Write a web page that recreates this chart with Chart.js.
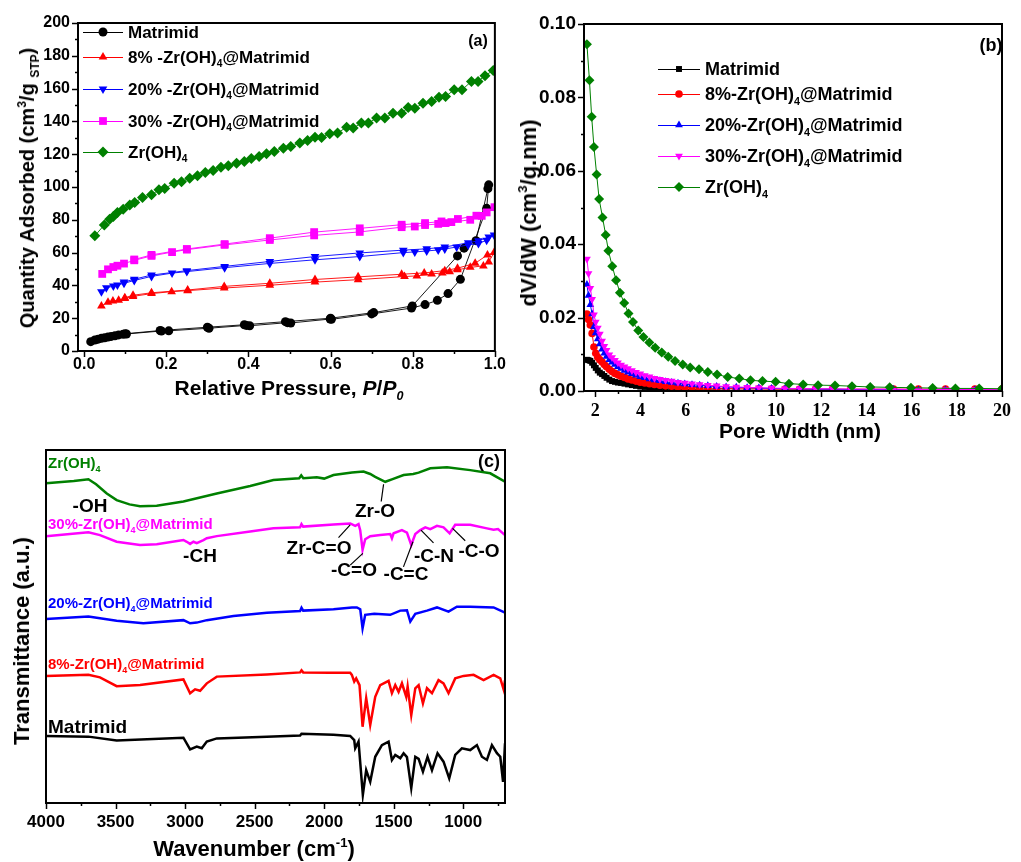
<!DOCTYPE html>
<html>
<head>
<meta charset="utf-8">
<script src="https://cdn.jsdelivr.net/npm/chart.js@4.4.1/dist/chart.umd.min.js"></script>
<style>
  body { margin: 0; background: #fff; width: 1021px; height: 862px; position: relative; overflow: hidden;
         font-family: "Liberation Sans", Arial, sans-serif; font-weight: bold; }
  canvas { position: absolute; }
  .t { position: absolute; white-space: nowrap; line-height: 1; font-weight: bold; color: #000; z-index: 5; }
  .t sub { font-size: 0.6em; vertical-align: -0.45em; line-height: 0; }
  .t sup { font-size: 0.6em; vertical-align: 0.7em; line-height: 0; }
  .c { transform: translate(-50%, -50%); }
  .l { transform: translate(0, -50%); }
  .r { transform: translate(-50%, -50%) rotate(-90deg); }
</style>
</head>
<body>
<canvas id="chartA" width="510" height="420" style="left:0;top:0"></canvas>
<canvas id="chartB" width="511" height="430" style="left:510px;top:0"></canvas>
<canvas id="chartC" width="510" height="432" style="left:0;top:430px"></canvas>

<!-- panel (a) text -->
<div class="t r" style="left:27px;top:188px;font-size:20px">Quantity Adsorbed (cm<sup>3</sup>/g <sub>STP</sub>)</div>
<div class="t c" style="left:289px;top:387px;font-size:21px">Relative Pressure, <i>P</i>/<i>P</i><sub><i>0</i></sub></div>
<div class="t c" style="left:478px;top:41px;font-size:16px">(a)</div>
<div class="t l" style="left:128px;top:32px;font-size:17px">Matrimid</div>
<div class="t l" style="left:128px;top:57px;font-size:17px">8% -Zr(OH)<sub>4</sub>@Matrimid</div>
<div class="t l" style="left:128px;top:89px;font-size:17px">20% -Zr(OH)<sub>4</sub>@Matrimid</div>
<div class="t l" style="left:128px;top:121px;font-size:17px">30% -Zr(OH)<sub>4</sub>@Matrimid</div>
<div class="t l" style="left:128px;top:152px;font-size:17px">Zr(OH)<sub>4</sub></div>

<!-- panel (b) text -->
<div class="t r" style="left:529px;top:213px;font-size:22px">dV/dW (cm<sup>3</sup>/g.nm)</div>
<div class="t c" style="left:800px;top:430px;font-size:21px">Pore Width (nm)</div>
<div class="t c" style="left:991px;top:45px;font-size:18px">(b)</div>
<div class="t l" style="left:705px;top:69px;font-size:18px">Matrimid</div>
<div class="t l" style="left:705px;top:94px;font-size:18px">8%-Zr(OH)<sub>4</sub>@Matrimid</div>
<div class="t l" style="left:705px;top:125px;font-size:18px">20%-Zr(OH)<sub>4</sub>@Matrimid</div>
<div class="t l" style="left:705px;top:156px;font-size:18px">30%-Zr(OH)<sub>4</sub>@Matrimid</div>
<div class="t l" style="left:705px;top:187px;font-size:18px">Zr(OH)<sub>4</sub></div>

<!-- panel (c) text -->
<div class="t r" style="left:22px;top:641px;font-size:22px">Transmittance (a.u.)</div>
<div class="t c" style="left:254px;top:849px;font-size:22px">Wavenumber (cm<sup>-1</sup>)</div>
<div class="t c" style="left:489px;top:461px;font-size:18px">(c)</div>
<div class="t l" style="left:48px;top:462px;font-size:15px;color:#008000">Zr(OH)<sub>4</sub></div>
<div class="t l" style="left:48px;top:523px;font-size:15px;color:#ff00ff">30%-Zr(OH)<sub>4</sub>@Matrimid</div>
<div class="t l" style="left:48px;top:602px;font-size:15px;color:#0000ff">20%-Zr(OH)<sub>4</sub>@Matrimid</div>
<div class="t l" style="left:48px;top:663px;font-size:15px;color:#ff0000">8%-Zr(OH)<sub>4</sub>@Matrimid</div>
<div class="t l" style="left:48px;top:726px;font-size:19px">Matrimid</div>
<div class="t c" style="left:90px;top:505px;font-size:19px">-OH</div>
<div class="t c" style="left:375px;top:510px;font-size:19px">Zr-O</div>
<div class="t c" style="left:319px;top:547px;font-size:19px">Zr-C=O</div>
<div class="t c" style="left:200px;top:555px;font-size:19px">-CH</div>
<div class="t c" style="left:354px;top:569px;font-size:19px">-C=O</div>
<div class="t c" style="left:406px;top:573px;font-size:19px">-C=C</div>
<div class="t c" style="left:434px;top:555px;font-size:19px">-C-N</div>
<div class="t c" style="left:479px;top:550px;font-size:19px">-C-O</div>

<script>
// ---------- data: (a) N2 isotherms [P/P0, quantity adsorbed] ----------
const isoMatrimid = [[0.016,5.7],[0.026,6.7],[0.034,7.2],[0.042,7.7],[0.05,8.1],[0.058,8.5],[0.066,8.9],[0.075,9.3],[0.084,9.8],[0.095,10.2],[0.103,10.4],[0.188,12.2],[0.206,12.3],[0.304,13.9],[0.395,15.6],[0.403,15.4],[0.495,17.3],[0.503,17.1],[0.599,19.5],[0.602,19.3],[0.70,22.6],[0.797,26.2],[0.83,28.3],[0.86,30.9],[0.886,35],[0.916,43.7],[0.98,87],[0.985,101.3],
  [0.983,99],[0.954,67.3],[0.925,62.7],[0.909,58],[0.799,27.5],[0.705,23.4],[0.6,20],[0.49,17.9],[0.39,16],[0.3,14.5],[0.185,12.5],[0.1,10.5]];
const iso8 = [[0.042,27.5],[0.058,29.8],[0.07,30.5],[0.084,31],[0.099,32],[0.119,33.3],[0.164,35],[0.213,36.2],[0.252,36.8],[0.341,38.4],[0.452,40.1],[0.562,42],[0.667,43.5],[0.78,45.4],[0.81,45.8],[0.846,47],[0.872,47.6],[0.89,48.3],[0.909,49.5],[0.94,51],[0.972,51.9],[0.985,54.3],[0.998,60],
  [0.982,58.6],[0.952,53.5],[0.909,50.5],[0.878,49],[0.828,47.6],[0.773,46.8],[0.667,45.2],[0.562,43.6],[0.452,41.3],[0.341,39.4],[0.252,37.2],[0.164,35.5],[0.119,34],[0.099,32.5]];
const iso20 = [[0.042,36.2],[0.054,38.5],[0.071,39.6],[0.081,40.3],[0.097,41.3],[0.122,43],[0.164,45.5],[0.214,47.5],[0.25,48.4],[0.342,50.8],[0.452,53.4],[0.562,55.6],[0.671,57.6],[0.777,60],[0.805,60.4],[0.834,61],[0.862,61.6],[0.878,62.2],[0.907,63.4],[0.935,64.7],[0.96,65.5],[0.98,67.5],[0.998,70.8],
  [0.985,69.5],[0.96,67.2],[0.935,66],[0.878,63.4],[0.834,62.3],[0.777,61.5],[0.671,59.8],[0.562,57.6],[0.452,54.6],[0.342,51.6],[0.25,49],[0.164,46.3],[0.122,43.8],[0.097,42]];
const iso30 = [[0.044,47],[0.058,49.8],[0.071,51.2],[0.081,52],[0.097,53.3],[0.122,55.3],[0.164,58],[0.214,60.3],[0.25,61.8],[0.342,64.7],[0.452,67.7],[0.56,70.5],[0.671,72.6],[0.773,75.5],[0.805,75.9],[0.83,76.8],[0.862,77.5],[0.88,78],[0.894,78.6],[0.94,80],[0.968,82.4],[0.999,87.7],
  [0.98,84.5],[0.955,82.5],[0.91,80.5],[0.87,79],[0.83,78],[0.773,77],[0.671,74.8],[0.56,72.5],[0.452,68.8],[0.342,65.2],[0.25,62.2],[0.164,58.6],[0.122,55.8]];
const isoZr = [[0.026,70.2],[0.049,76.9],[0.062,80.4],[0.071,82],[0.081,84.4],[0.095,86.5],[0.111,89.1],[0.123,90.5],[0.142,93.6],[0.164,95.2],[0.182,98.3],[0.196,99.1],[0.219,102.3],[0.237,103.2],[0.257,105.4],[0.276,106.8],[0.295,108.9],[0.314,110.1],[0.333,112.1],[0.351,112.9],[0.371,114.5],[0.39,115.6],[0.407,117.4],[0.426,118.6],[0.444,120.2],[0.463,121.7],[0.485,123.7],[0.503,124.7],[0.525,126.8],[0.544,128.4],[0.562,130.4],[0.578,130.2],[0.598,132.5],[0.617,132.9],[0.639,136.5],[0.655,135.9],[0.675,139],[0.692,139],[0.712,142],[0.732,142],[0.752,145],[0.773,145],[0.789,148.5],[0.805,148],[0.825,151],[0.846,152.2],[0.864,154.8],[0.88,155.2],[0.901,159.3],[0.92,159.3],[0.943,164.4],[0.959,164.4],[0.976,167.9],[0.996,171.1]];

// ---------- data: (b) pore size distribution ----------
const poreWidthZr = [1.63,1.74,1.84,1.94,2.06,2.17,2.32,2.46,2.58,2.75,2.92,3.09,3.28,3.47,3.67,3.9,4.13,4.39,4.65,4.94,5.23,5.53,5.87,6.2,6.59,6.98,7.39,7.86,8.37,8.87,9.4,9.98,10.57,11.2,11.86,12.61,13.36,14.17,15.03,15.97,16.93,17.94,18.99,20];
const psdZr = [0.0945,0.0847,0.0747,0.0665,0.059,0.0523,0.0473,0.0425,0.0382,0.034,0.0302,0.0268,0.024,0.0211,0.0188,0.0165,0.0147,0.0132,0.0118,0.0105,0.0093,0.0082,0.0072,0.0064,0.0059,0.0052,0.0045,0.0038,0.0034,0.0029,0.0027,0.0025,0.002,0.0018,0.0016,0.0015,0.0013,0.0011,0.001,0.0009,0.0008,0.0007,0.0007,0.0006];
const poreWidth = [1.63,1.7,1.78,1.86,1.94,2.02,2.11,2.2,2.3,2.4,2.5,2.62,2.74,2.87,3.0,3.14,3.29,3.45,3.62,3.8,3.99,4.19,4.4,4.62,4.86,5.11,5.38,5.66,5.96,6.28,6.62,6.98,7.37,7.79,8.24,8.72,9.24,9.8,10.4,11.05,11.75,12.5,13.3,14.2,15.2,16.3,17.5,18.8,20];
const psd30 = [0.036,0.032,0.028,0.025,0.0208,0.0188,0.0172,0.0155,0.0136,0.0122,0.0111,0.0099,0.0091,0.0084,0.0077,0.0071,0.0066,0.0061,0.0056,0.0051,0.0047,0.0042,0.0039,0.0035,0.0032,0.0029,0.0027,0.0024,0.0022,0.002,0.0018,0.0016,0.0014,0.0012,0.0011,0.001,0.0009,0.0008,0.0007,0.0007,0.0006,0.0006,0.0005,0.0005,0.0005,0.0004,0.0004,0.0004,0.0004];
const psd20 = [0.029,0.026,0.0235,0.021,0.0175,0.0158,0.0142,0.0128,0.0114,0.0103,0.0094,0.0085,0.0078,0.0072,0.0066,0.0061,0.0056,0.0051,0.0047,0.0043,0.0039,0.0036,0.0033,0.003,0.0028,0.0025,0.0023,0.0021,0.0019,0.0017,0.0016,0.0014,0.0012,0.0011,0.001,0.0009,0.0008,0.0007,0.0006,0.0006,0.0005,0.0005,0.0004,0.0004,0.0004,0.0003,0.0003,0.0003,0.0003];
const psd8 = [0.021,0.0195,0.018,0.0157,0.012,0.0103,0.0092,0.0085,0.0079,0.0072,0.0066,0.0059,0.0053,0.0048,0.0044,0.004,0.0037,0.0033,0.003,0.0027,0.0024,0.0022,0.002,0.0018,0.0016,0.0014,0.0013,0.0011,0.001,0.0009,0.0008,0.0008,0.0007,0.0007,0.0006,0.0006,0.0006,0.0005,0.0005,0.0005,0.0005,0.0005,0.0005,0.0005,0.0005,0.0005,0.0005,0.0005,0.0005];
const psdMatrimid = [0.0085,0.0084,0.0082,0.0077,0.007,0.0063,0.0056,0.005,0.0046,0.0041,0.0036,0.0031,0.0027,0.0025,0.0023,0.0022,0.002,0.0018,0.0016,0.0014,0.0012,0.0011,0.0009,0.0008,0.0007,0.0006,0.0005,0.0005,0.0004,0.0004,0.0003,0.0003,0.0003,0.0002,0.0002,0.0002,0.0002,0.0002,0.0002,0.0002,0.0002,0.0002,0.0002,0.0001,0.0001,0.0001,0.0001,0.0001,0.0001];

// ---------- data: (c) FTIR spectra [wavenumber, transmittance a.u. incl. offset] ----------
const irZr = [[4000,90.6],[3800,91.2],[3695,91.7],[3640,90.3],[3563,87.7],[3492,85.8],[3400,84.6],[3324,84.1],[3204,84.2],[3012,85.4],[2772,87.7],[2532,89.8],[2365,91.5],[2180,92],[2165,92.8],[2150,92],[2053,92.3],[2000,91.9],[1933,92.9],[1800,93.6],[1717,93.9],[1669,93.2],[1633,92.4],[1561,91],[1513,91.7],[1429,92.9],[1360,93.2],[1321,93.6],[1237,94.8],[1117,95.1],[950,94.3],[806,93.4],[700,91]];
const ir30 = [[4000,75.6],[3695,76.7],[3612,75.9],[3492,74],[3324,73.1],[3204,73.3],[3012,74.5],[2988,74],[2964,73.4],[2940,74],[2916,73.6],[2868,74.5],[2844,75],[2772,75.6],[2532,76.9],[2365,77.8],[2173,78.1],[2163,79],[2151,78.3],[1933,78.9],[1813,79.2],[1777,78.5],[1753,79],[1741,77.3],[1724,71.7],[1705,74.7],[1669,75.6],[1597,75.9],[1525,76.2],[1513,75],[1501,76.4],[1441,77.3],[1405,76.6],[1374,73.1],[1345,76.2],[1309,77.3],[1273,78.1],[1237,77.6],[1189,78.5],[1142,78.1],[1098,76.4],[1058,78.8],[950,78.8],[830,77.8],[782,77.4],[750,77.6],[700,75.9]];
const ir20 = [[4000,52.1],[3695,52.8],[3492,51.6],[3300,50.9],[3012,51.8],[2964,50.9],[2916,51.1],[2844,51.8],[2652,53],[2412,53.9],[2173,54.4],[2163,55.3],[2151,54.5],[1933,54.9],[1800,55.4],[1765,55.4],[1741,54.9],[1724,49.5],[1705,53.3],[1640,53.6],[1525,53.3],[1453,54.5],[1405,54.6],[1381,51.4],[1345,53.6],[1261,54.5],[1189,55.4],[1106,54.2],[1046,55.6],[950,55.6],[782,55.4],[700,53.9]];
const ir8 = [[4000,36],[3695,36.3],[3612,35.6],[3492,33.1],[3324,33.4],[3012,35],[2964,31.1],[2928,32.2],[2892,31.8],[2844,33.9],[2772,35.8],[2412,36.4],[2173,37],[2163,37.6],[2151,37],[1957,36.9],[1813,36.9],[1801,36.3],[1784,34.4],[1770,35.3],[1746,33.4],[1724,21.6],[1698,29.7],[1669,22.1],[1633,30.1],[1597,33.4],[1537,34.6],[1513,31.1],[1489,33.4],[1465,31.5],[1441,33.9],[1410,30.1],[1400,33],[1374,24.9],[1345,32.5],[1321,33.4],[1290,28.2],[1261,32.5],[1225,31.1],[1178,34.8],[1142,33.9],[1106,31.1],[1058,35.3],[998,36],[926,36.3],[854,34.8],[782,36.3],[734,35.3],[710,32.2],[700,34.8]];
const irMatrimid = [[4000,19],[3695,18.8],[3492,17.7],[3012,18.5],[2964,15.2],[2916,16],[2880,15.5],[2844,17.4],[2772,18.3],[2412,18.8],[2173,19.1],[2163,19.6],[1933,19.3],[1813,19],[1784,17.8],[1777,15.5],[1753,17.4],[1722,2.3],[1698,9.3],[1669,6],[1633,13.1],[1585,16.4],[1537,17.4],[1513,12.2],[1489,13.6],[1453,12.7],[1429,14.1],[1405,13],[1374,4.2],[1345,13.1],[1321,12.5],[1290,8.9],[1257,13.1],[1225,9.3],[1185,14.1],[1142,11.7],[1101,7],[1058,13.6],[1010,15.5],[950,15],[902,16.4],[866,13.1],[830,12.2],[794,16.4],[758,14.1],[734,13.1],[714,6],[700,16.9]];

// ---------- ticks ----------
const ticksAx = [0, 0.2, 0.4, 0.6, 0.8, 1.0];
const minorAx = [0.1, 0.3, 0.5, 0.7, 0.9];
const ticksAy = [0, 20, 40, 60, 80, 100, 120, 140, 160, 180, 200];
const minorAy = [10, 30, 50, 70, 90, 110, 130, 150, 170, 190];
const ticksBx = [2, 4, 6, 8, 10, 12, 14, 16, 18, 20];
const minorBx = [3, 5, 7, 9, 11, 13, 15, 17, 19];
const ticksBy = [0, 0.02, 0.04, 0.06, 0.08, 0.10];
const minorBy = [0.01, 0.03, 0.05, 0.07, 0.09];
const ticksCx = [4000, 3500, 3000, 2500, 2000, 1500, 1000];
const minorCx = [3750, 3250, 2750, 2250, 1750, 1250, 750];

const BLACK = '#000000', RED = '#ff0000', BLUE = '#0000ff', MAGENTA = '#ff00ff', GREEN = '#008000';

// marker shapes drawn like Chart.js point styles (for the legends)
function drawMarker(ctx, shape, x, y, r, color) {
  ctx.fillStyle = color;
  ctx.beginPath();
  if (shape === 'circle') {
    ctx.arc(x, y, r, 0, Math.PI * 2);
  } else if (shape === 'rect') {
    const s = r * Math.SQRT1_2;
    ctx.rect(x - s, y - s, 2 * s, 2 * s);
  } else if (shape === 'rectRot') {
    ctx.moveTo(x, y - r); ctx.lineTo(x + r, y); ctx.lineTo(x, y + r); ctx.lineTo(x - r, y);
  } else if (shape === 'up' || shape === 'down') {
    const d = shape === 'up' ? 1 : -1;
    ctx.moveTo(x, y - d * r);
    ctx.lineTo(x + r * 0.866, y + d * r / 2);
    ctx.lineTo(x - r * 0.866, y + d * r / 2);
  }
  ctx.closePath();
  ctx.fill();
}

// frame, outward major/minor ticks, legend symbols and leader lines
const originFrame = {
  id: 'originFrame',
  afterDatasetsDraw(chart, args, opts) {
    const { ctx, chartArea: a, scales } = chart;
    ctx.save();
    ctx.strokeStyle = '#000';
    ctx.lineWidth = 2;
    ctx.strokeRect(a.left, a.top, a.right - a.left, a.bottom - a.top);
    ctx.lineWidth = 1.5;
    const tick = (scale, vals, len) => {
      (vals || []).forEach(v => {
        const p = Math.round(scale.getPixelForValue(v)) + 0.5;
        ctx.beginPath();
        if (scale.isHorizontal()) { ctx.moveTo(p, a.bottom); ctx.lineTo(p, a.bottom + len); }
        else { ctx.moveTo(a.left, p); ctx.lineTo(a.left - len, p); }
        ctx.stroke();
      });
    };
    tick(scales.x, opts.xMajor, 6);
    tick(scales.x, opts.xMinor, 3);
    tick(scales.y, opts.yMajor, 6);
    tick(scales.y, opts.yMinor, 3);

    (opts.legend || []).forEach(it => {
      ctx.strokeStyle = it.color;
      ctx.lineWidth = 1;
      ctx.beginPath();
      ctx.moveTo(it.x1, it.y + 0.5); ctx.lineTo(it.x2, it.y + 0.5);
      ctx.stroke();
      drawMarker(ctx, it.shape, (it.x1 + it.x2) / 2, it.y, it.r, it.color);
    });

    ctx.strokeStyle = '#000';
    ctx.lineWidth = 1.2;
    (opts.leaders || []).forEach(l => {
      ctx.beginPath();
      ctx.moveTo(scales.x.getPixelForValue(l[0]), scales.y.getPixelForValue(l[1]));
      ctx.lineTo(scales.x.getPixelForValue(l[2]), scales.y.getPixelForValue(l[3]));
      ctx.stroke();
    });
    ctx.restore();
  }
};

const toXY = arr => arr.map(p => ({ x: p[0], y: p[1] }));
const zipXY = (xs, ys) => xs.map((x, i) => ({ x: x, y: ys[i] }));

function series(data, color, shape, r, order, lineW) {
  return {
    data: data,
    borderColor: color,
    backgroundColor: color,
    borderWidth: lineW,
    pointStyle: shape === 'down' ? 'triangle' : shape,
    rotation: shape === 'down' ? 180 : 0,
    pointRadius: r,
    pointBorderWidth: 0,
    tension: 0,
    order: order
  };
}

function axis(opts) {
  return {
    type: 'linear',
    min: opts.min, max: opts.max, reverse: !!opts.reverse,
    display: opts.display !== false,
    grid: { display: false, drawTicks: false },
    border: { display: false },
    ticks: {
      color: '#000', padding: opts.pad,
      font: { family: opts.family || 'Liberation Sans', size: opts.size, weight: 'bold' },
      callback: opts.fmt
    },
    afterBuildTicks: s => { s.ticks = opts.ticks.map(v => ({ value: v })); },
    afterFit: s => { if (opts.w !== undefined) s.width = opts.w; if (opts.h !== undefined) s.height = opts.h; }
  };
}

const base = { animation: false, responsive: false, devicePixelRatio: 1, events: [] };

// (a) isotherms
new Chart(document.getElementById('chartA'), {
  type: 'line',
  data: { datasets: [
    series(toXY(isoMatrimid), BLACK, 'circle', 4.5, 4, 0.9),
    series(toXY(iso8), RED, 'triangle', 5, 3, 0.9),
    series(toXY(iso20), BLUE, 'down', 5, 2, 0.9),
    series(toXY(iso30), MAGENTA, 'rect', 5.5, 1, 0.9),
    series(toXY(isoZr), GREEN, 'rectRot', 5.5, 0, 0.9)
  ]},
  options: Object.assign({}, base, {
    layout: { padding: { top: 23, right: 12, left: 0, bottom: 0 } },
    plugins: {
      legend: { display: false }, tooltip: { enabled: false },
      originFrame: {
        xMajor: ticksAx, xMinor: minorAx, yMajor: ticksAy, yMinor: minorAy,
        legend: [
          { x1: 83, x2: 123, y: 32, color: BLACK, shape: 'circle', r: 4.5 },
          { x1: 83, x2: 123, y: 57, color: RED, shape: 'up', r: 5 },
          { x1: 83, x2: 123, y: 89, color: BLUE, shape: 'down', r: 5 },
          { x1: 83, x2: 123, y: 121, color: MAGENTA, shape: 'rect', r: 5.5 },
          { x1: 83, x2: 123, y: 152, color: GREEN, shape: 'rectRot', r: 5.5 }
        ]
      }
    },
    scales: {
      x: axis({ min: -0.015, max: 1.0, ticks: ticksAx, size: 16, pad: 4, h: 69, fmt: v => v.toFixed(1) }),
      y: axis({ min: 0, max: 200, ticks: ticksAy, size: 16, pad: 8, w: 78, fmt: v => String(v) })
    }
  }),
  plugins: [originFrame]
});

// (b) pore size distribution
new Chart(document.getElementById('chartB'), {
  type: 'line',
  data: { datasets: [
    series(zipXY(poreWidth, psdMatrimid), BLACK, 'rect', 4.2, 4, 1),
    series(zipXY(poreWidth, psd8), RED, 'circle', 3.8, 3, 1),
    series(zipXY(poreWidth, psd20), BLUE, 'triangle', 4.5, 2, 1),
    series(zipXY(poreWidth, psd30), MAGENTA, 'down', 4.5, 1, 1),
    series(zipXY(poreWidthZr, psdZr), GREEN, 'rectRot', 5, 0, 1)
  ]},
  options: Object.assign({}, base, {
    layout: { padding: { top: 24, right: 8, left: 0, bottom: 0 } },
    plugins: {
      legend: { display: false }, tooltip: { enabled: false },
      originFrame: {
        xMajor: ticksBx, xMinor: minorBx, yMajor: ticksBy, yMinor: minorBy,
        legend: [
          { x1: 148, x2: 190, y: 69, color: BLACK, shape: 'rect', r: 4.2 },
          { x1: 148, x2: 190, y: 94, color: RED, shape: 'circle', r: 3.8 },
          { x1: 148, x2: 190, y: 125, color: BLUE, shape: 'up', r: 4.5 },
          { x1: 148, x2: 190, y: 156, color: MAGENTA, shape: 'down', r: 4.5 },
          { x1: 148, x2: 190, y: 187, color: GREEN, shape: 'rectRot', r: 5 }
        ]
      }
    },
    scales: {
      x: axis({ min: 1.5, max: 20, ticks: ticksBx, size: 18, family: 'Liberation Serif', pad: 10, h: 39, fmt: v => String(v) }),
      y: axis({ min: 0, max: 0.1, ticks: ticksBy, size: 19, pad: 8, w: 74, fmt: v => v.toFixed(2) })
    }
  }),
  plugins: [originFrame]
});

// (c) FTIR
function irLine(data, color) {
  return { data: toXY(data), borderColor: color, borderWidth: 2.5, pointRadius: 0, tension: 0, fill: false };
}
new Chart(document.getElementById('chartC'), {
  type: 'line',
  data: { datasets: [
    irLine(irZr, GREEN),
    irLine(ir30, MAGENTA),
    irLine(ir20, BLUE),
    irLine(ir8, RED),
    irLine(irMatrimid, BLACK)
  ]},
  options: Object.assign({}, base, {
    layout: { padding: { top: 20, right: 5, left: 46, bottom: 0 } },
    plugins: {
      legend: { display: false }, tooltip: { enabled: false },
      originFrame: {
        xMajor: ticksCx, xMinor: minorCx,
        leaders: [[1573, 90.3, 1590, 85.4], [1813, 78.8, 1897, 75.2], [1722, 70.7, 1813, 67.4],
                  [1362, 74, 1430, 66.9], [1304, 77.3, 1214, 73.7], [1077, 77.8, 986, 74.3]]
      }
    },
    scales: {
      x: axis({ min: 700, max: 4000, reverse: true, ticks: ticksCx, size: 17, pad: 9, h: 59, fmt: v => String(v) }),
      y: axis({ min: 0, max: 100, ticks: [], size: 12, pad: 0, display: false, fmt: v => '' })
    }
  }),
  plugins: [originFrame]
});
</script>
</body>
</html>
